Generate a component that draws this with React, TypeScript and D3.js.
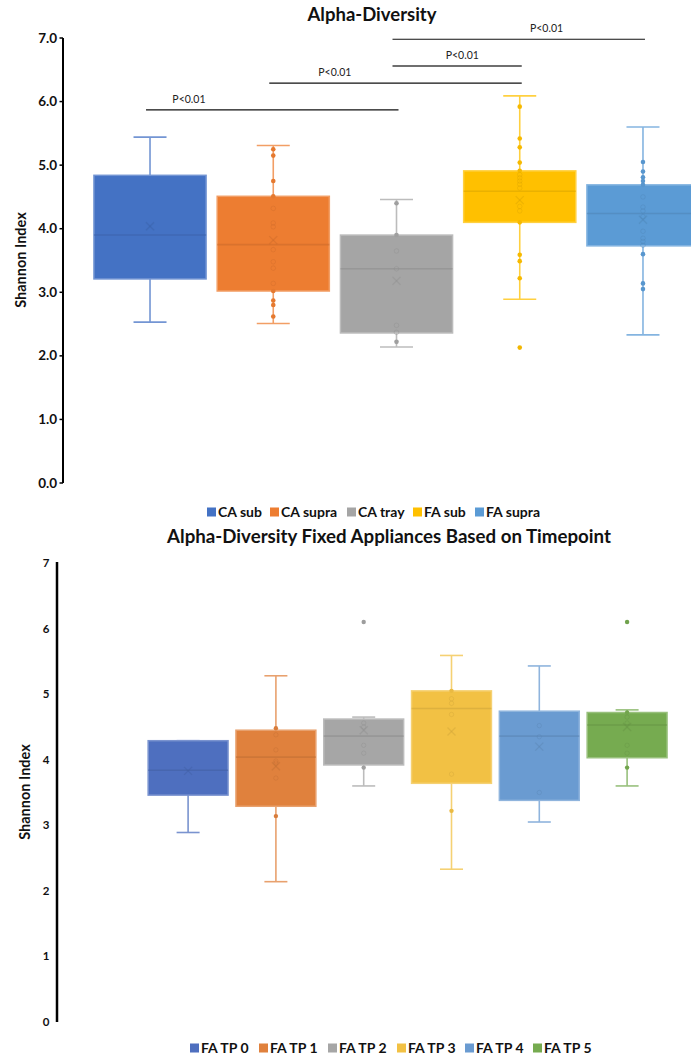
import React from "react";
import * as d3 from "d3";

// ---------- Top chart data ----------
const topGroups = ["CA sub", "CA supra", "CA tray", "FA sub", "FA supra"];
const topColors = ["#4472C4", "#ED7D31", "#A5A5A5", "#FFC000", "#5B9BD5"];
const topWhiskerLow = [2.53, 2.51, 2.14, 2.89, 2.33];
const topQ1 = [3.21, 3.02, 2.36, 4.1, 3.73];
const topMedian = [3.9, 3.75, 3.37, 4.59, 4.24];
const topQ3 = [4.84, 4.51, 3.9, 4.91, 4.69];
const topWhiskerHigh = [5.44, 5.31, 4.46, 6.09, 5.6];
const topMean = [4.04, 3.82, 3.18, 4.45, 4.14];
const topPoints: number[][] = [
  [],
  [5.25, 5.15, 4.75, 4.51, 4.32, 4.09, 4.03, 3.67, 3.48, 3.38, 3.14, 3.02, 2.87, 2.8, 2.62],
  [4.4, 3.9, 3.65, 3.37, 2.48, 2.37, 2.22],
  [5.92, 5.42, 5.28, 5.04, 4.91, 4.85, 4.8, 4.75, 4.7, 4.64, 4.35, 4.28, 4.1, 3.59, 3.49, 3.22],
  [5.05, 4.9, 4.81, 4.75, 4.69, 4.5, 4.34, 4.28, 4.19, 3.96, 3.85, 3.8, 3.74, 3.6, 3.14, 3.05],
];
const topOutliers: number[][] = [[], [], [], [2.13], []];
const topTicks = [0, 1, 2, 3, 4, 5, 6, 7];

// significance brackets
const sigFrom = [0, 1, 2, 2];
const sigTo = [2, 3, 3, 4];
const sigLevel = [5.87, 6.29, 6.56, 6.98];
const sigLabel = ["P<0.01", "P<0.01", "P<0.01", "P<0.01"];
const sigLabelPos = [0.17, 0.26, 0.54, 0.61];

// ---------- Bottom chart data ----------
const botGroups = ["FA TP 0", "FA TP 1", "FA TP 2", "FA TP 3", "FA TP 4", "FA TP 5"];
const botColors = ["#4E6FBF", "#E0813D", "#A6A6A6", "#F2C144", "#6A9BD1", "#76AB50"];
const botWhiskerLow = [2.89, 2.14, 3.6, 2.33, 3.05, 3.6];
const botQ1 = [3.46, 3.29, 3.92, 3.64, 3.38, 4.03];
const botMedian = [3.84, 4.04, 4.36, 4.78, 4.36, 4.53];
const botQ3 = [4.29, 4.45, 4.62, 5.05, 4.74, 4.72];
const botWhiskerHigh = [4.29, 5.28, 4.65, 5.59, 5.43, 4.76];
const botMean = [3.83, 3.9, 4.45, 4.43, 4.2, 4.5];
const botPoints: number[][] = [
  [],
  [4.48, 4.38, 4.15, 3.98, 3.95, 3.72, 3.14],
  [4.56, 4.5, 4.22, 4.1, 3.88],
  [5.05, 4.93, 4.86, 4.69, 3.78, 3.22],
  [4.52, 4.35, 3.5],
  [4.72, 4.65, 4.56, 4.22, 4.1, 3.88],
];
const botOutliers: number[][] = [[], [], [6.1], [], [], [6.1]];
const botTicks = [0, 1, 2, 3, 4, 5, 6, 7];

const FONT = "Lato, 'Noto Sans', sans-serif";

type BoxProps = {
  cx: number;
  bw: number;
  cap: number;
  y: d3.ScaleLinear<number, number>;
  color: string;
  lo: number;
  q1: number;
  med: number;
  q3: number;
  hi: number;
  mean: number;
  pts: number[];
  outs: number[];
  r: number;
};

function BoxMark(p: BoxProps) {
  const { cx, bw, cap, y, color } = p;
  const dark = d3.color(color)!.darker(0.45).formatHex();
  const light = d3.interpolateRgb(color, "#ffffff")(0.25);
  const x0 = cx - bw / 2;
  return (
    <g>
      <line x1={cx} x2={cx} y1={y(p.lo)} y2={y(p.q1)} stroke={light} strokeWidth={1.6} />
      <line x1={cx} x2={cx} y1={y(p.q3)} y2={y(p.hi)} stroke={light} strokeWidth={1.6} />
      <line x1={cx - cap / 2} x2={cx + cap / 2} y1={y(p.lo)} y2={y(p.lo)} stroke={light} strokeWidth={1.6} />
      <line x1={cx - cap / 2} x2={cx + cap / 2} y1={y(p.hi)} y2={y(p.hi)} stroke={light} strokeWidth={1.6} />
      <rect x={x0} y={y(p.q3)} width={bw} height={y(p.q1) - y(p.q3)} fill={color} stroke={light} strokeWidth={1.5} />
      <line x1={x0} x2={x0 + bw} y1={y(p.med)} y2={y(p.med)} stroke={dark} strokeOpacity={0.55} strokeWidth={1.6} />
      {p.pts.map((v, i) => {
        const inside = v < p.q3 - 0.005 && v > p.q1 + 0.005;
        return inside ? (
          <circle key={i} cx={cx} cy={y(v)} r={p.r} fill="none" stroke={dark} strokeOpacity={0.35} strokeWidth={1} />
        ) : (
          <circle key={i} cx={cx} cy={y(v)} r={p.r} fill={d3.color(color)!.darker(0.1).formatHex()} />
        );
      })}
      {p.outs.map((v, i) => (
        <circle key={"o" + i} cx={cx} cy={y(v)} r={p.r} fill={d3.color(color)!.darker(0.15).formatHex()} />
      ))}
      <g stroke={dark} strokeOpacity={0.45} strokeWidth={1.3}>
        <line x1={cx - 4} x2={cx + 4} y1={y(p.mean) - 4} y2={y(p.mean) + 4} />
        <line x1={cx - 4} x2={cx + 4} y1={y(p.mean) + 4} y2={y(p.mean) - 4} />
      </g>
    </g>
  );
}

export default function App() {
  const yTop = d3.scaleLinear().domain([0, 7]).range([483, 38]);
  const xTop = d3.scaleBand<string>().domain(topGroups).range([88.4, 704.6]).paddingInner(0.09).paddingOuter(0.045);
  const cTop = (g: string) => (xTop(g) as number) + xTop.bandwidth() / 2;

  const yBot = d3.scaleLinear().domain([0, 7]).range([1022, 563]);
  const xBot = d3.scaleBand<string>().domain(botGroups).range([144.2, 671]).paddingInner(0.09).paddingOuter(0.045);
  const cBot = (g: string) => (xBot(g) as number) + xBot.bandwidth() / 2;

  const topLegendX = [207, 270, 347, 413, 475];
  const botLegendX = [190, 259, 328, 397, 465, 533];

  return (
    <svg
      width={691}
      height={1059}
      style={{ position: "absolute", left: 0, top: 0, background: "#fff" }}
      fontFamily={FONT}
    >
      <rect width={691} height={1059} fill="#fff" />
      {/* ===== TOP CHART ===== */}
      <text x={372} y={21} textAnchor="middle" fontWeight="bold" fontSize={18.5} fill="#111">
        Alpha-Diversity
      </text>
      {sigFrom.map((f, i) => {
        const x1 = cTop(topGroups[f]) - 4;
        const x2 = cTop(topGroups[sigTo[i]]) + 2;
        const yy = yTop(sigLevel[i]);
        const gray = i === 2;
        return (
          <g key={i}>
            <line x1={x1} x2={x2} y1={yy} y2={yy} stroke={gray ? "#6f6f6f" : "#111"} strokeWidth={gray ? 2 : 1.2} />
            <text x={x1 + (x2 - x1) * sigLabelPos[i]} y={yy - 7} textAnchor="middle" fontSize={10.5} fill="#222">
              {sigLabel[i]}
            </text>
          </g>
        );
      })}
      <line x1={63} x2={63} y1={yTop(7)} y2={yTop(0)} stroke="#000" strokeWidth={2} />
      {topTicks.map((t) => (
        <g key={t}>
          <line x1={59.5} x2={63} y1={yTop(t)} y2={yTop(t)} stroke="#000" strokeWidth={1.5} />
          <text x={57} y={yTop(t) + 4.5} textAnchor="end" fontWeight="bold" fontSize={13.5} fill="#111">
            {d3.format(".1f")(t)}
          </text>
        </g>
      ))}
      <text transform={`translate(26,260) rotate(-90)`} textAnchor="middle" fontWeight="bold" fontSize={14.5} fill="#111">
        Shannon Index
      </text>
      {topGroups.map((g, i) => (
        <BoxMark
          key={g}
          cx={cTop(g)}
          bw={xTop.bandwidth()}
          cap={33}
          y={yTop}
          color={topColors[i]}
          lo={topWhiskerLow[i]}
          q1={topQ1[i]}
          med={topMedian[i]}
          q3={topQ3[i]}
          hi={topWhiskerHigh[i]}
          mean={topMean[i]}
          pts={topPoints[i]}
          outs={topOutliers[i]}
          r={2.3}
        />
      ))}
      {topGroups.map((g, i) => (
        <g key={g}>
          <rect x={topLegendX[i]} y={507.5} width={9} height={9} fill={topColors[i]} />
          <text x={topLegendX[i] + 11} y={517} fontWeight="bold" fontSize={14} fill="#111">
            {g}
          </text>
        </g>
      ))}

      {/* ===== BOTTOM CHART ===== */}
      <text x={389} y={543} textAnchor="middle" fontWeight="bold" fontSize={18.7} fill="#111">
        Alpha-Diversity Fixed Appliances Based on Timepoint
      </text>
      <line x1={57} x2={57} y1={yBot(7) - 1} y2={yBot(0)} stroke="#000" strokeWidth={2.5} />
      {botTicks.map((t) => (
        <text key={t} x={46} y={yBot(t) + 4} textAnchor="middle" fontWeight="bold" fontSize={11.5} fill="#111">
          {t}
        </text>
      ))}
      <text transform={`translate(30,792) rotate(-90)`} textAnchor="middle" fontWeight="bold" fontSize={14.5} fill="#111">
        Shannon Index
      </text>
      {botGroups.map((g, i) => (
        <BoxMark
          key={g}
          cx={cBot(g)}
          bw={xBot.bandwidth()}
          cap={23}
          y={yBot}
          color={botColors[i]}
          lo={botWhiskerLow[i]}
          q1={botQ1[i]}
          med={botMedian[i]}
          q3={botQ3[i]}
          hi={botWhiskerHigh[i]}
          mean={botMean[i]}
          pts={botPoints[i]}
          outs={botOutliers[i]}
          r={2.2}
        />
      ))}
      {botGroups.map((g, i) => (
        <g key={g}>
          <rect x={botLegendX[i]} y={1043.5} width={9} height={9} fill={botColors[i]} />
          <text x={botLegendX[i] + 11} y={1053} fontWeight="bold" fontSize={14} fill="#111">
            {g}
          </text>
        </g>
      ))}
    </svg>
  );
}
